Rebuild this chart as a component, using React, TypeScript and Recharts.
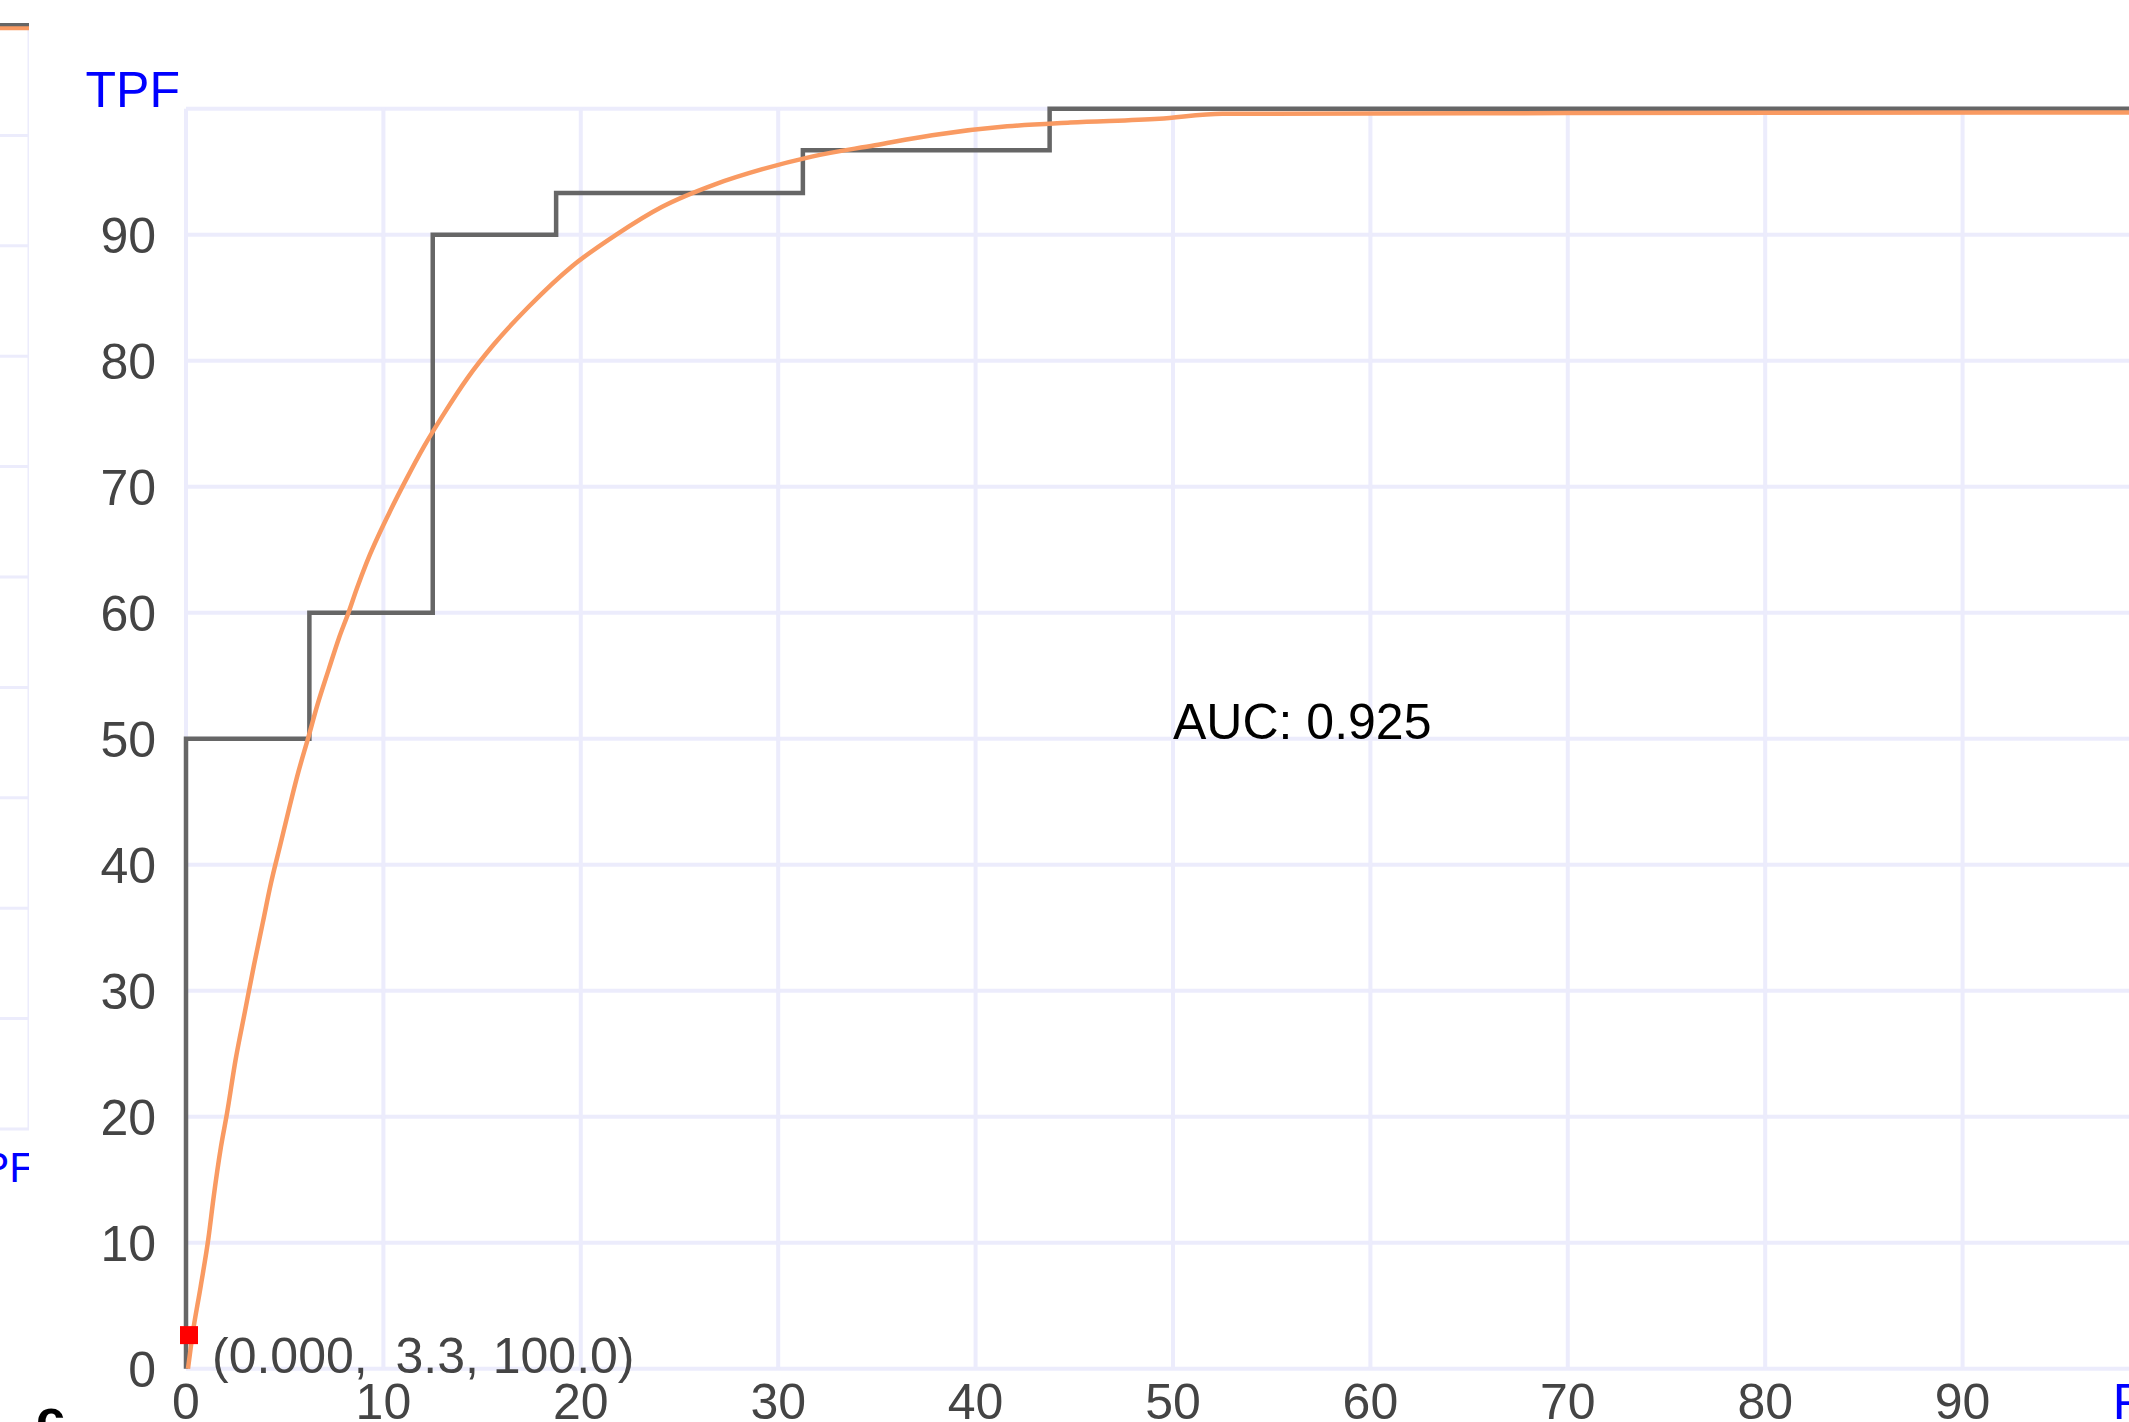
import React from 'react';
import { LineChart, Line, XAxis, YAxis, CartesianGrid, ReferenceDot } from 'recharts';

// axis ticks (100 carries the axis name instead of a number)
const fpfTicks = [0, 10, 20, 30, 40, 50, 60, 70, 80, 90, 100];
const tpfTicks = [0, 10, 20, 30, 40, 50, 60, 70, 80, 90, 100];

// empirical ROC operating points (stepped)
const empFpf = [0, 0, 6.25, 12.5, 18.75, 31.25, 43.75, 100];
const empTpf = [0, 50, 60, 90, 93.3, 96.7, 100, 100];

// fitted ROC curve
const fitFpf = [0.1, 0.31, 0.74, 1.14, 1.39, 1.77, 2.07, 2.51, 2.98, 3.44, 3.89, 4.3, 4.78, 5.23, 5.7, 6.16, 6.68, 7.23, 7.75, 8.23, 8.65, 9.13, 10.29, 11.13, 12.06, 13.07, 14.25, 15.6, 17.37, 19.56, 21.84, 24.1, 26.8, 29.2, 31.7, 34.9, 37.8, 41.6, 44.8, 49.3, 52.5, 70, 100];
const fitTpf = [0, 2.5, 6.5, 10.4, 13.5, 17.6, 20.2, 24.5, 28.3, 32.0, 35.4, 38.5, 41.6, 44.5, 47.4, 49.9, 52.8, 55.5, 58.0, 60.0, 61.9, 63.9, 67.9, 70.5, 73.2, 75.8, 78.6, 81.3, 84.3, 87.5, 90.05, 92.2, 94.0, 95.2, 96.2, 97.1, 97.9, 98.6, 98.9, 99.2, 99.6, 99.65, 99.7];

// selected operating point
const opFpf = 0;
const opTpf = 3.3;
const opLabel = '(0.000,  3.3, 100.0)';
const aucText = 'AUC: 0.925';

// visible right edge of the neighbouring panel
const leftFpf = [85, 100];
const leftEmpTpf = [100, 100];
const leftFitTpf = [99.7, 99.7];

const empirical = empFpf.map((x, i) => ({ x, y: empTpf[i] }));
const fitted = fitFpf.map((x, i) => ({ x, y: fitTpf[i] }));
const leftEmp = leftFpf.map((x, i) => ({ x, y: leftEmpTpf[i] }));
const leftFit = leftFpf.map((x, i) => ({ x, y: leftFitTpf[i] }));

const FONT = '"Liberation Sans", Arial, sans-serif';
const GRID = '#ececfc';

const XTick = (props: any) => {
  const { x, y, payload } = props;
  if (payload.value === 100) {
    return (
      <text x={x} y={y + 50} textAnchor="middle" fill="#0000ff" fontSize={50} fontFamily={FONT}>
        FPF
      </text>
    );
  }
  return (
    <text x={x} y={y + 50} textAnchor="middle" fill="#444" fontSize={50} fontFamily={FONT}>
      {payload.value}
    </text>
  );
};

const YTick = (props: any) => {
  const { x, y, payload } = props;
  if (payload.value === 100) {
    return (
      <text x={x + 24} y={y - 2} textAnchor="end" fill="#0000ff" fontSize={50} fontFamily={FONT}>
        TPF
      </text>
    );
  }
  return (
    <text x={x} y={y + 18} textAnchor="end" fill="#444" fontSize={50} fontFamily={FONT}>
      {payload.value}
    </text>
  );
};

const LeftTick = (props: any) => {
  const { x, y, payload } = props;
  if (payload.value !== 100) return null;
  return (
    <text x={x + 6} y={y + 53} textAnchor="end" fill="#0000ff" fontSize={42} fontFamily={FONT}>
      FPF
    </text>
  );
};

const App = () => {
  return (
    <div style={{ position: 'fixed', left: 0, top: 0, width: 2129, height: 1422, overflow: 'hidden', background: '#fff' }}>
      <div style={{ position: 'absolute', left: -571, top: 0 }}>
        <LineChart width={600} height={1200} margin={{ top: 25, right: 0, bottom: 0, left: 0 }}>
          <CartesianGrid stroke={GRID} strokeWidth={3} />
          <XAxis type="number" dataKey="x" domain={[0, 100]} ticks={fpfTicks} interval={0}
            tick={LeftTick} tickLine={false} axisLine={false} tickSize={0} tickMargin={0} height={71} />
          <YAxis type="number" domain={[0, 100]} ticks={tpfTicks} hide />
          <Line data={leftEmp} dataKey="y" type="linear" stroke="#666" strokeWidth={4} dot={false} isAnimationActive={false} />
          <Line data={leftFit} dataKey="y" type="linear" stroke="#f99a62" strokeWidth={4} dot={false} isAnimationActive={false} />
        </LineChart>
      </div>

      <div style={{ position: 'absolute', left: 0, top: 0 }}>
        <LineChart width={2180} height={1430} margin={{ top: 108.7, right: 20, bottom: 0, left: 0 }}>
          <CartesianGrid stroke={GRID} strokeWidth={4} />
          <XAxis type="number" dataKey="x" domain={[0, 100]} ticks={fpfTicks} interval={0}
            tick={XTick} tickLine={false} axisLine={false} tickSize={0} tickMargin={0} height={61.3} />
          <YAxis type="number" domain={[0, 100]} ticks={tpfTicks} interval={0} width={186}
            tick={YTick} tickLine={false} axisLine={false} tickSize={0} tickMargin={30} />
          <Line data={empirical} dataKey="y" type="stepAfter" stroke="#666" strokeWidth={4.5} dot={false} isAnimationActive={false} />
          <Line data={fitted} dataKey="y" type="monotone" stroke="#f99a62" strokeWidth={4.5} dot={false} isAnimationActive={false} />
          <ReferenceDot
            x={50}
            y={50}
            r={0}
            shape={(p: any) => (
              <text x={p.cx} y={p.cy} fill="#000" fontSize={50} fontFamily={FONT}>
                {aucText}
              </text>
            )}
          />
          <ReferenceDot
            x={opFpf}
            y={opTpf}
            r={9}
            shape={(p: any) => (
              <g>
                <rect x={p.cx - 6} y={p.cy - 1} width={18} height={18} fill="#ff0000" />
                <text x={p.cx + 26} y={p.cy + 46} fill="#444" fontSize={50} fontFamily={FONT} style={{ whiteSpace: 'pre' }}>
                  {opLabel}
                </text>
              </g>
            )}
          />
        </LineChart>
      </div>

      <div style={{ position: 'absolute', left: 36, top: 1392, fontFamily: FONT, fontWeight: 'bold', fontSize: 52, lineHeight: '52px', color: '#000' }}>
        c
      </div>
    </div>
  );
};

export default App;
